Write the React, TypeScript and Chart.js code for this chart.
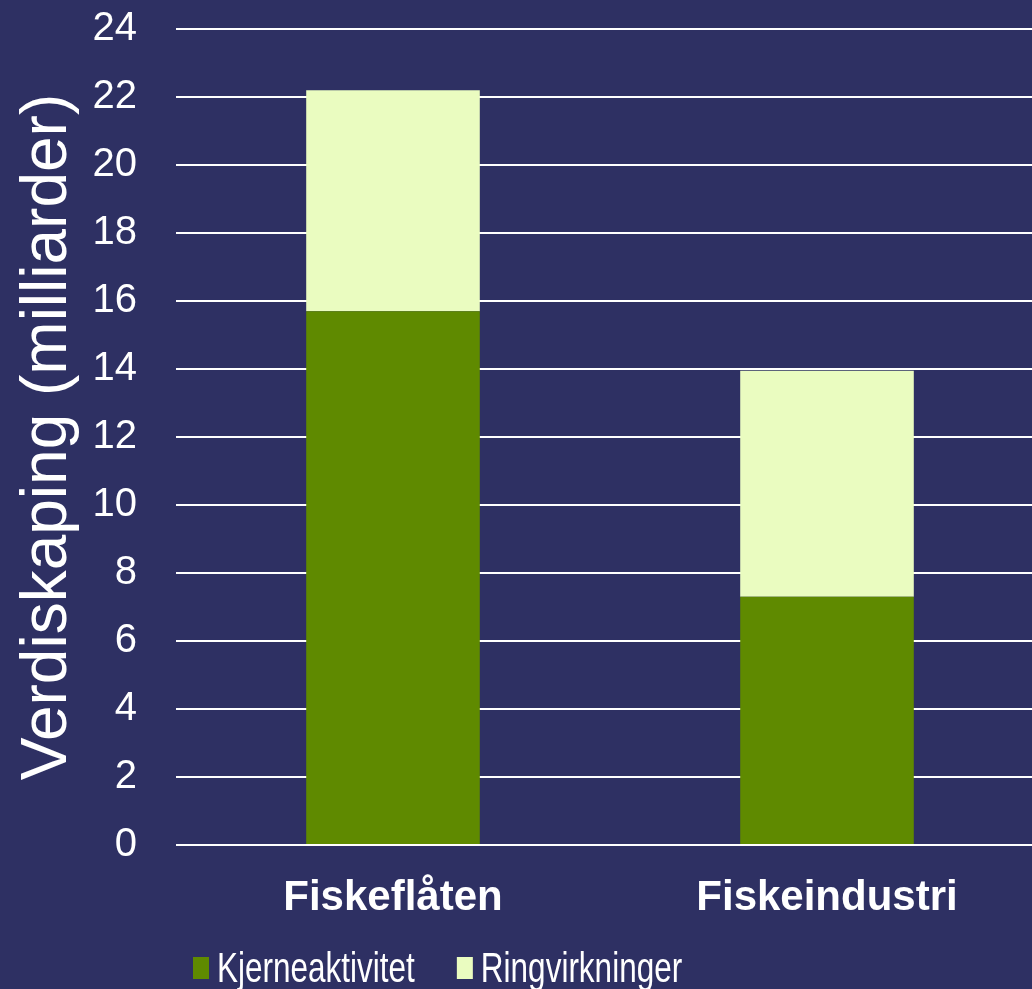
import React, { useEffect, useRef } from "react";
import { Chart, registerables } from "chart.js";

Chart.register(...registerables);

const categories = ["Fiskeflåten", "Fiskeindustri"];
const seriesNames = ["Kjerneaktivitet", "Ringvirkninger"];
const kjerneaktivitet = [15.7, 7.3];
const ringvirkninger = [6.5, 6.65];
const yTicks = [0, 2, 4, 6, 8, 10, 12, 14, 16, 18, 20, 22, 24];

const BG = "#2E3063";
const GREEN = "#5F8A00";
const LIGHT = "#EAFCC0";
const FONT = "'Liberation Sans', Arial, Helvetica, sans-serif";

const bgPlugin = {
  id: "bgFill",
  beforeDraw(chart: any) {
    const { ctx, width, height } = chart;
    ctx.save();
    ctx.fillStyle = BG;
    ctx.fillRect(0, 0, width, height);
    ctx.restore();
  },
};

const legendPlugin = {
  id: "narrowLegend",
  afterDraw(chart: any) {
    const ctx = chart.ctx;
    ctx.save();
    let x = 193;
    const baseline = 982;
    chart.data.datasets.forEach((ds: any) => {
      ctx.fillStyle = ds.backgroundColor;
      ctx.fillRect(x, 957, 16, 22);
      ctx.save();
      ctx.translate(x + 24, baseline);
      ctx.scale(0.75, 1);
      ctx.font = `42px ${FONT}`;
      ctx.textBaseline = "alphabetic";
      ctx.textAlign = "left";
      ctx.fillStyle = "#FFFFFF";
      ctx.fillText(ds.label, 0, 0);
      const w = ctx.measureText(ds.label).width * 0.75;
      ctx.restore();
      x += 24 + w + 42;
    });
    ctx.restore();
  },
};

export default function App() {
  const ref = useRef<HTMLCanvasElement | null>(null);

  useEffect(() => {
    document.body.style.margin = "0";
    document.body.style.background = BG;
    document.body.style.overflow = "hidden";
    if (!ref.current) return;
    const chart = new Chart(ref.current, {
      type: "bar",
      data: {
        labels: categories,
        datasets: [
          {
            label: seriesNames[0],
            data: kjerneaktivitet,
            backgroundColor: GREEN,
            borderWidth: 0,
          },
          {
            label: seriesNames[1],
            data: ringvirkninger,
            backgroundColor: LIGHT,
            borderWidth: 0,
          },
        ],
      },
      options: {
        animation: false,
        responsive: false,
        maintainAspectRatio: false,
        layout: { padding: { top: 29, right: 0, left: 0, bottom: 0 } },
        plugins: {
          legend: { display: false },
          tooltip: { enabled: false },
        },
        datasets: {
          bar: { barPercentage: 1, categoryPercentage: 0.4 },
        },
        scales: {
          x: {
            stacked: true,
            grid: { display: false, drawTicks: false },
            border: { display: false },
            ticks: {
              color: "#FFFFFF",
              padding: 28,
              font: { family: FONT, size: 42, weight: "bold" },
            },
            afterFit(scale: any) {
              scale.height = 144;
            },
          },
          y: {
            stacked: true,
            min: 0,
            max: 24,
            afterBuildTicks(scale: any) {
              scale.ticks = yTicks.map((v) => ({ value: v }));
            },
            grid: { color: "#FFFFFF", lineWidth: 2, drawTicks: false },
            border: { display: false },
            ticks: {
              color: "#FFFFFF",
              padding: 39,
              font: { family: FONT, size: 40 },
            },
            title: {
              display: true,
              text: "Verdiskaping (milliarder)",
              color: "#FFFFFF",
              padding: { top: 10, bottom: 0 },
              font: { family: FONT, size: 64 },
            },
            afterFit(scale: any) {
              scale.width = 176;
              scale.paddingTop = 20;
              scale.paddingBottom = 0;
            },
          },
        },
      },
      plugins: [bgPlugin, legendPlugin],
    });
    return () => chart.destroy();
  }, []);

  return (
    <div style={{ position: "absolute", left: 0, top: 0, width: 1032, height: 989, overflow: "hidden", background: BG }}>
      <canvas ref={ref} width={1044} height={989} style={{ display: "block", width: 1044, height: 989 }} />
    </div>
  );
}
